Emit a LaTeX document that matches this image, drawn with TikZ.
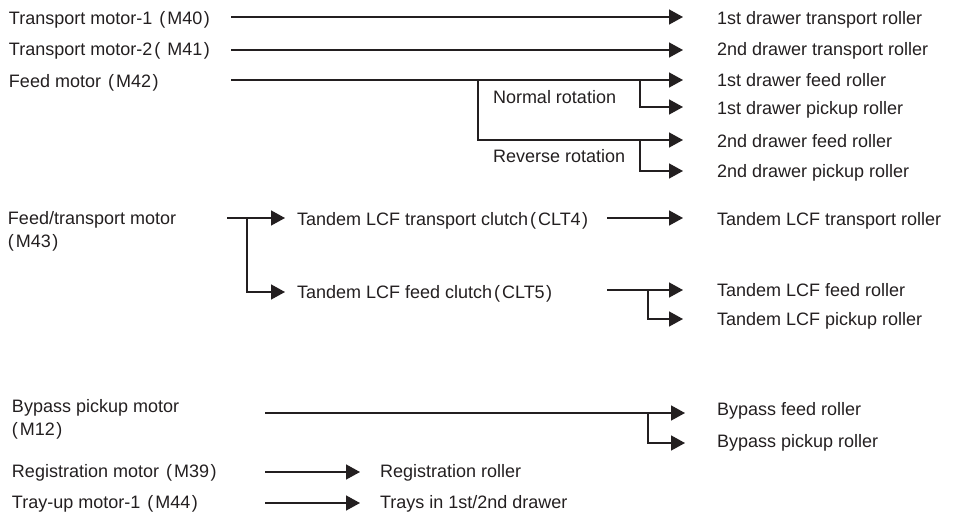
\documentclass[tikz,border=0pt]{standalone}
\usepackage{fontspec}
\setmainfont{Liberation Sans}
\usetikzlibrary{arrows.meta}
\definecolor{ink}{RGB}{35,31,32}
\newcommand{\lpar}{\kern2pt(\kern2pt}
\newcommand{\lparstart}{(\kern2pt}
\newcommand{\rpar}{\kern1.5pt)}
\begin{document}
\begin{tikzpicture}[x=1pt,y=-1pt,
  lbl/.style={anchor=base west, inner sep=0pt, outer sep=0pt, font=\fontsize{18}{23}\selectfont, text=ink, align=left},
  ln/.style={line width=1.5pt, draw=ink},
  arr/.style={ln, -{Triangle[length=14pt,width=15pt]}}]
\useasboundingbox (0,0) rectangle (955,516);
% ---------- left labels
\node[lbl] (m1) at (9,25) {Transport motor-1 \lpar M40\rpar};
\node[lbl] (m2) at (9,56) {Transport motor-2\lpar{} M41\rpar};
\node[lbl] (m3) at (9,88) {Feed motor \lpar M42\rpar};
\node[lbl] (m4) at (8,247) {Feed/transport motor\\\lparstart M43\rpar};
\node[lbl] (m5) at (12,435) {Bypass pickup motor\\\lparstart M12\rpar};
\node[lbl] (m6) at (12,477) {Registration motor \lpar M39\rpar};
\node[lbl] (m7) at (12,508) {Tray-up motor-1 \lpar M44\rpar};
% ---------- middle labels
\node[lbl] (nr) at (493,103) {Normal rotation};
\node[lbl] (rr) at (493,162) {Reverse rotation};
\node[lbl] (c1) at (297,225) {Tandem LCF transport clutch\lpar CLT4\rpar};
\node[lbl] (c2) at (297,298) {Tandem LCF feed clutch\lpar CLT5\rpar};
% ---------- right labels
\node[lbl] (r1) at (717,25) {1st drawer transport roller};
\node[lbl] (r2) at (717,56) {2nd drawer transport roller};
\node[lbl] (r3) at (717,87) {1st drawer feed roller};
\node[lbl] (r4) at (717,115) {1st drawer pickup roller};
\node[lbl] (r5) at (717,147) {2nd drawer feed roller};
\node[lbl] (r6) at (717,177) {2nd drawer pickup roller};
\node[lbl] (r7) at (717,225) {Tandem LCF transport roller};
\node[lbl] (r8) at (717,296) {Tandem LCF feed roller};
\node[lbl] (r9) at (717,325) {Tandem LCF pickup roller};
\node[lbl] (r10) at (717,415) {Bypass feed roller};
\node[lbl] (r11) at (717,447) {Bypass pickup roller};
\node[lbl] (r12) at (380,477) {Registration roller};
\node[lbl] (r13) at (380,508) {Trays in 1st/2nd drawer};
% ---------- connector ends
\coordinate (s1) at (231,17);  \coordinate (t1) at (683,17);
\coordinate (s2) at (231,50);  \coordinate (t2) at (683,50);
\coordinate (s3) at (231,80);  \coordinate (t3) at (683,80);
\coordinate (j3) at (478,80);
\coordinate (t4) at (683,107); \coordinate (t5) at (683,140); \coordinate (t6) at (683,171);
\coordinate (s4) at (227,218); \coordinate (t7) at (285,218); \coordinate (t8) at (285,292);
\coordinate (s5) at (607,218); \coordinate (t9) at (683,218);
\coordinate (s6) at (607,290); \coordinate (t10) at (683,290); \coordinate (t11) at (683,319);
\coordinate (s7) at (265,413); \coordinate (t12) at (685,413); \coordinate (t13) at (685,443);
\coordinate (s8) at (265,472); \coordinate (t14) at (360,472);
\coordinate (s9) at (265,503); \coordinate (t15) at (360,503);
% ---------- connectors
\draw[arr] (s1) -- (t1);
\draw[arr] (s2) -- (t2);
\draw[arr] (s3) -- (t3);
\draw[arr] (j3) |- (t5);
\draw[arr] (640,80) |- (t4);
\draw[arr] (640,140) |- (t6);
\draw[arr] (s4) -- (t7);
\draw[arr] (247,218) |- (t8);
\draw[arr] (s5) -- (t9);
\draw[arr] (s6) -- (t10);
\draw[arr] (648,290) |- (t11);
\draw[arr] (s7) -- (t12);
\draw[arr] (648,413) |- (t13);
\draw[arr] (s8) -- (t14);
\draw[arr] (s9) -- (t15);
\end{tikzpicture}
\end{document}
